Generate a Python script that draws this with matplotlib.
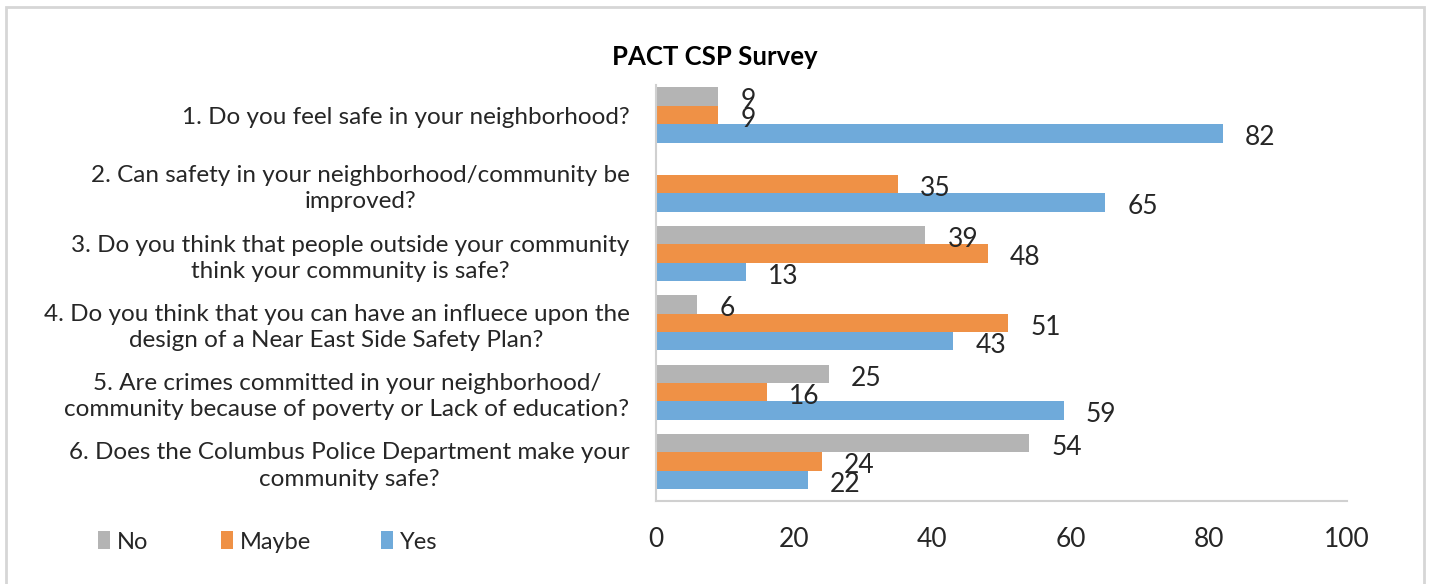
import numpy as np
import matplotlib
matplotlib.use("Agg")
import matplotlib.pyplot as plt
from matplotlib.patches import Rectangle

plt.rcParams['font.family'] = ['Lato', 'DejaVu Sans']

# survey questions, top to bottom
questions = [
    "1. Do you feel safe in your neighborhood?",
    "2. Can safety in your neighborhood/community be\nimproved?",
    "3. Do you think that people outside your community\nthink your community is safe?",
    "4. Do you think that you can have an influece upon the\ndesign of a Near East Side Safety Plan?",
    "5. Are crimes committed in your neighborhood/\ncommunity because of poverty or Lack of education?",
    "6. Does the Columbus Police Department make your\ncommunity safe?",
]
no_vals = [9, np.nan, 39, 6, 25, 54]
maybe_vals = [9, 35, 48, 51, 16, 24]
yes_vals = [82, 65, 13, 43, 59, 22]
x_ticks = [0, 20, 40, 60, 80, 100]

series = [("No", no_vals, '#B4B4B4'),
          ("Maybe", maybe_vals, '#EF9146'),
          ("Yes", yes_vals, '#6FAADA')]

fig = plt.figure(figsize=(14.3, 5.84), dpi=100)
ax = fig.add_axes([656/1430, 83/584, 691/1430, 416/584])

txt = '#262626'
h = 0.265
pos = np.arange(len(questions))
bars = []
for j, (name, vals, col) in enumerate(series):
    y = pos + (j - 1) * h
    v = np.array(vals, dtype=float)
    b = ax.barh(y, np.nan_to_num(v), height=h, color=col, label=name)
    bars.append(b)
    for yy, vv in zip(y, v):
        if np.isnan(vv):
            continue
        ax.annotate(f"{vv:g}", (vv, yy), xytext=(16, -3), textcoords='offset points',
                    ha='left', va='center', fontsize=19, color=txt)

ax.set_ylim(5.57, -0.433)
ax.set_xlim(0, 100)
ax.set_xticks(x_ticks)
ax.set_xticklabels([str(t) for t in x_ticks], fontsize=19, color=txt)
ax.tick_params(axis='x', length=0, pad=19)
ax.tick_params(axis='y', length=0, pad=19)
ax.set_yticks(pos)
ax.set_yticklabels(questions, fontsize=17.5, color=txt, ha='right', multialignment='center',
                   linespacing=1.3)
for s in ['top', 'right']:
    ax.spines[s].set_visible(False)
for s in ['left', 'bottom']:
    ax.spines[s].set_color('#D0D0D0')
    ax.spines[s].set_linewidth(1.5)

fig.text(0.5, 1 - 57/584, "PACT CSP Survey", ha='center', va='center',
         fontsize=18.5, fontweight='bold', color='black')

# one legend entry per series so each sits where the original puts it
leg_x = [98, 221, 381]
for b, (name, _, _), lx in zip(bars, series, leg_x):
    leg = fig.legend(handles=[b], labels=[name], loc='center left',
                     bbox_to_anchor=(lx/1430, 1 - 542/584), frameon=False, fontsize=17,
                     handlelength=0.5, handleheight=0.8, handletextpad=0.3,
                     borderaxespad=0, borderpad=0)
    for t in leg.get_texts():
        t.set_color(txt)

# outer chart border
fig.patches.append(Rectangle((6/1430, -0.05), 1418/1430, 1.05 - 7/584, transform=fig.transFigure,
                             fill=False, edgecolor='#D6D6D6', linewidth=2))

fig.savefig("out.png", dpi=100)
